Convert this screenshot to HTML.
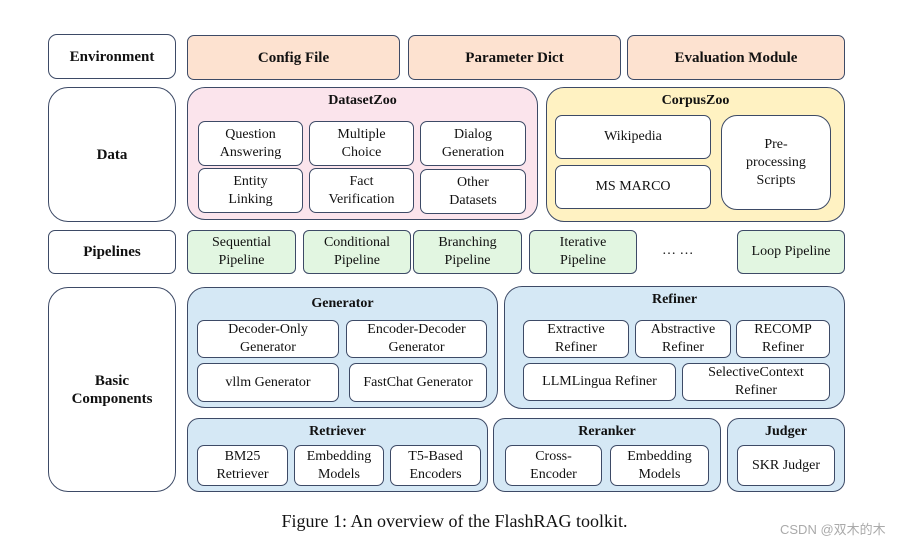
<!DOCTYPE html>
<html><head><style>
body{margin:0;width:909px;height:545px;background:#fff;position:relative;overflow:hidden;font-family:"Liberation Serif",serif;color:#111}
.b{position:absolute;box-sizing:border-box;border:1.5px solid #3d4a66;display:flex;align-items:center;justify-content:center;text-align:center;line-height:18px;font-size:14px}
.w{background:#fff;border-radius:7px}
.t{font-weight:bold;font-size:15px}
.o{background:#fde2d0;border-radius:7px}
.p{background:#fbe4ec;border-radius:18px;align-items:flex-start}
.y{background:#fff2c2;border-radius:18px;align-items:flex-start}
.g{background:#e2f6e1;border-radius:6px}
.c{background:#d5e8f5;border-radius:18px;align-items:flex-start}
.h{padding-top:4px;font-weight:bold;font-size:14px}
</style></head><body>
<div class="b w t" style="left:48px;top:34px;width:128px;height:45px;border-radius:9px">Environment</div>
<div class="b o t" style="left:187px;top:35px;width:213px;height:45px">Config File</div>
<div class="b o t" style="left:408px;top:35px;width:213px;height:45px">Parameter Dict</div>
<div class="b o t" style="left:627px;top:35px;width:218px;height:45px">Evaluation Module</div>

<div class="b w t" style="left:48px;top:87px;width:128px;height:135px;border-radius:20px">Data</div>
<div class="b p h" style="left:187px;top:87px;width:351px;height:133px">DatasetZoo</div>
<div class="b w" style="left:198px;top:121px;width:105px;height:45px">Question<br>Answering</div>
<div class="b w" style="left:309px;top:121px;width:105px;height:45px">Multiple<br>Choice</div>
<div class="b w" style="left:420px;top:121px;width:106px;height:45px">Dialog<br>Generation</div>
<div class="b w" style="left:198px;top:168px;width:105px;height:45px">Entity<br>Linking</div>
<div class="b w" style="left:309px;top:168px;width:105px;height:45px">Fact<br>Verification</div>
<div class="b w" style="left:420px;top:169px;width:106px;height:45px">Other<br>Datasets</div>
<div class="b y h" style="left:546px;top:87px;width:299px;height:135px">CorpusZoo</div>
<div class="b w" style="left:555px;top:115px;width:156px;height:44px">Wikipedia</div>
<div class="b w" style="left:555px;top:165px;width:156px;height:44px">MS MARCO</div>
<div class="b w" style="left:721px;top:115px;width:110px;height:95px;border-radius:16px">Pre-<br>processing<br>Scripts</div>

<div class="b w t" style="left:48px;top:230px;width:128px;height:44px">Pipelines</div>
<div class="b g" style="left:187px;top:230px;width:109px;height:44px">Sequential<br>Pipeline</div>
<div class="b g" style="left:303px;top:230px;width:108px;height:44px">Conditional<br>Pipeline</div>
<div class="b g" style="left:413px;top:230px;width:109px;height:44px">Branching<br>Pipeline</div>
<div class="b g" style="left:529px;top:230px;width:108px;height:44px">Iterative<br>Pipeline</div>
<div style="position:absolute;left:662px;top:243px;font-size:14px">… …</div>
<div class="b g" style="left:737px;top:230px;width:108px;height:44px">Loop Pipeline</div>

<div class="b w t" style="left:48px;top:287px;width:128px;height:205px;border-radius:20px">Basic<br>Components</div>
<div class="b c h" style="left:187px;top:287px;width:311px;height:121px;padding-top:7px">Generator</div>
<div class="b w" style="left:197px;top:320px;width:142px;height:38px">Decoder-Only<br>Generator</div>
<div class="b w" style="left:346px;top:320px;width:141px;height:38px">Encoder-Decoder<br>Generator</div>
<div class="b w" style="left:197px;top:363px;width:142px;height:39px">vllm Generator</div>
<div class="b w" style="left:349px;top:363px;width:138px;height:39px">FastChat Generator</div>
<div class="b c h" style="left:504px;top:286px;width:341px;height:123px">Refiner</div>
<div class="b w" style="left:523px;top:320px;width:106px;height:38px">Extractive<br>Refiner</div>
<div class="b w" style="left:635px;top:320px;width:96px;height:38px">Abstractive<br>Refiner</div>
<div class="b w" style="left:736px;top:320px;width:94px;height:38px">RECOMP<br>Refiner</div>
<div class="b w" style="left:523px;top:363px;width:153px;height:38px">LLMLingua Refiner</div>
<div class="b w" style="left:682px;top:363px;width:148px;height:38px">SelectiveContext<br>Refiner</div>

<div class="b c h" style="left:187px;top:418px;width:301px;height:74px;border-radius:12px">Retriever</div>
<div class="b w" style="left:197px;top:445px;width:91px;height:41px">BM25<br>Retriever</div>
<div class="b w" style="left:294px;top:445px;width:90px;height:41px">Embedding<br>Models</div>
<div class="b w" style="left:390px;top:445px;width:91px;height:41px">T5-Based<br>Encoders</div>
<div class="b c h" style="left:493px;top:418px;width:228px;height:74px;border-radius:12px">Reranker</div>
<div class="b w" style="left:505px;top:445px;width:97px;height:41px">Cross-<br>Encoder</div>
<div class="b w" style="left:610px;top:445px;width:99px;height:41px">Embedding<br>Models</div>
<div class="b c h" style="left:727px;top:418px;width:118px;height:74px;border-radius:12px">Judger</div>
<div class="b w" style="left:737px;top:445px;width:98px;height:41px">SKR Judger</div>

<div style="position:absolute;left:0;width:909px;top:511px;text-align:center;font-size:18px">Figure 1: An overview of the FlashRAG toolkit.</div>
<div style="position:absolute;left:780px;top:519px;font-family:'Liberation Sans','Noto Sans CJK SC',sans-serif;font-size:13px;color:#aaa">CSDN @双木的木</div>
</body></html>
